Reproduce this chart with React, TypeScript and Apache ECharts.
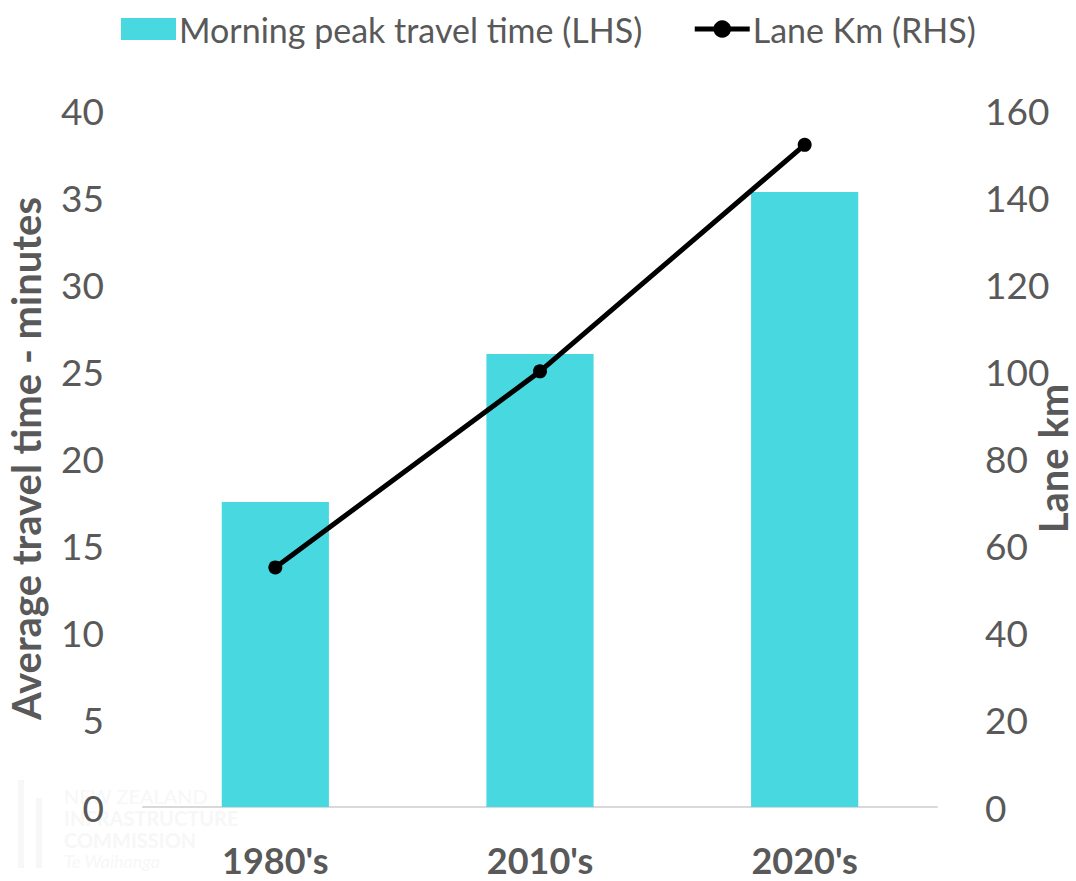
import React, { useEffect, useRef } from "react";
import * as echarts from "echarts";

// Decades on the x axis
const categories = ["1980's", "2010's", "2020's"];
// Morning peak travel time, minutes (left axis)
const travelTime = [17.5, 26.0, 35.3];
// Lane kilometres (right axis)
const laneKm = [55, 100, 152];

const leftTicks = { min: 0, max: 40, interval: 5 };
const rightTicks = { min: 0, max: 160, interval: 20 };

const FONT = "Lato, 'Open Sans', sans-serif";
const TEXT = "#595959";
const BAR = "#48D9E0";
const MARK = "#f7f7f7";

export default function App() {
  const ref = useRef<HTMLDivElement>(null);

  useEffect(() => {
    if (!ref.current) return;
    const chart = echarts.init(ref.current, undefined, { renderer: "svg" });
    chart.setOption({
      animation: false,
      backgroundColor: "#ffffff",
      textStyle: { fontFamily: FONT },
      graphic: [
        // faint organisation watermark in the lower-left corner
        {
          type: "group",
          left: 18,
          top: 780,
          z: -10,
          silent: true,
          children: [
            { type: "rect", shape: { x: 6, y: 0, width: 6, height: 88 }, style: { fill: MARK } },
            { type: "rect", shape: { x: 24, y: 18, width: 6, height: 70 }, style: { fill: MARK } },
            { type: "text", x: 52, y: 6, style: { text: "NEW ZEALAND", fill: MARK, font: "20px " + FONT } },
            { type: "text", x: 52, y: 28, style: { text: "INFRASTRUCTURE", fill: MARK, font: "bold 20px " + FONT } },
            { type: "text", x: 52, y: 50, style: { text: "COMMISSION", fill: MARK, font: "bold 20px " + FONT } },
            { type: "text", x: 52, y: 72, style: { text: "Te Waihanga", fill: MARK, font: "italic 18px " + FONT } },
          ],
        },
      ],
      legend: {
        top: 12,
        left: 121,
        padding: 0,
        itemGap: 50,
        itemWidth: 55,
        itemHeight: 22,
        textStyle: { color: TEXT, fontSize: 34, fontFamily: FONT, padding: [0, 0, 0, -2] },
        data: [
          { name: "Morning peak travel time (LHS)", icon: "rect" },
          { name: "Lane Km (RHS)", lineStyle: { width: 5, color: "#000000" } },
        ],
      },
      grid: {
        left: 143,
        right: 139,
        top: 110,
        bottom: 74,
        containLabel: false,
        outerBoundsMode: "none",
      },
      xAxis: {
        type: "category",
        data: categories,
        axisLine: { lineStyle: { color: "#d9d9d9", width: 2 } },
        axisTick: { show: false },
        axisLabel: {
          color: TEXT,
          fontSize: 36,
          lineHeight: 30,
          fontWeight: "bold",
          fontFamily: FONT,
          margin: 38,
        },
      },
      yAxis: [
        {
          type: "value",
          ...leftTicks,
          name: "Average travel time - minutes",
          nameLocation: "middle",
          nameGap: 99,
          nameMoveOverlap: false,
          nameTextStyle: { color: TEXT, fontSize: 40, lineHeight: 36, fontWeight: "bold", fontFamily: FONT },
          axisLine: { show: false },
          axisTick: { show: false },
          splitLine: { show: false },
          axisLabel: { color: TEXT, fontSize: 37, fontFamily: FONT, margin: 39 },
        },
        {
          type: "value",
          ...rightTicks,
          name: "Lane km",
          nameLocation: "middle",
          nameGap: 98,
          nameRotate: 90,
          nameMoveOverlap: false,
          nameTextStyle: { color: TEXT, fontSize: 40, lineHeight: 36, fontWeight: "bold", fontFamily: FONT },
          axisLine: { show: false },
          axisTick: { show: false },
          splitLine: { show: false },
          axisLabel: { color: TEXT, fontSize: 37, fontFamily: FONT, margin: 48 },
        },
      ],
      series: [
        {
          name: "Morning peak travel time (LHS)",
          type: "bar",
          yAxisIndex: 0,
          data: travelTime,
          barWidth: "40.5%",
          itemStyle: { color: BAR },
        },
        {
          name: "Lane Km (RHS)",
          type: "line",
          yAxisIndex: 1,
          data: laneKm,
          symbol: "circle",
          symbolSize: 14,
          lineStyle: { color: "#000000", width: 5 },
          itemStyle: { color: "#000000" },
        },
      ],
    });
    return () => chart.dispose();
  }, []);

  return (
    <div
      ref={ref}
      style={{ position: "fixed", left: 0, top: 0, width: 1076, height: 881 }}
    />
  );
}
